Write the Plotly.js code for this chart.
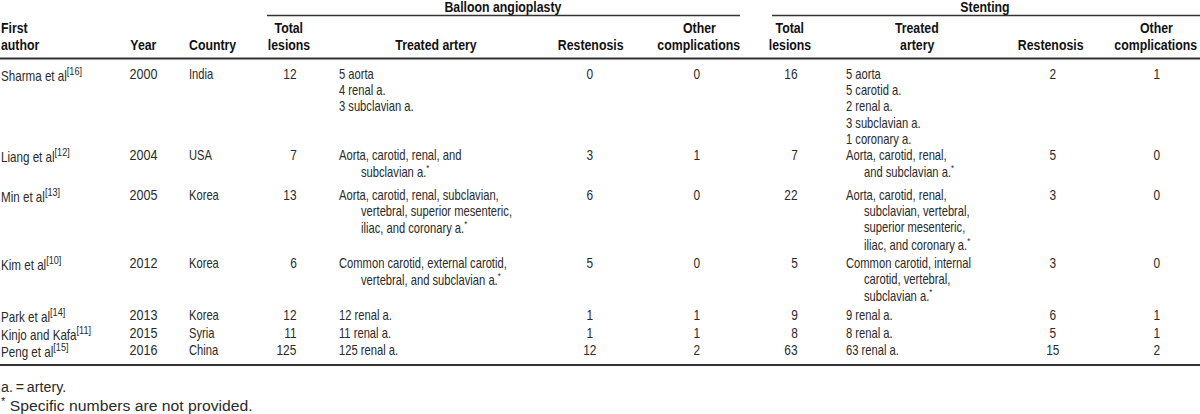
<!DOCTYPE html>
<html><head><meta charset="utf-8">
<script src="https://cdn.plot.ly/plotly-3.0.1.min.js"></script>
<style>html,body{margin:0;padding:0;background:#fff}#chart{width:1200px;height:414px}</style>
</head><body><div id="chart"></div>
<script>
// ---- data ----
// each artery cell is a list of entries; "\n" inside an entry marks a wrapped (indented) continuation
const authors = ['Sharma et al', 'Liang et al', 'Min et al', 'Kim et al', 'Park et al', 'Kinjo and Kafa', 'Peng et al'];
const refs = [16, 12, 13, 10, 14, 11, 15];
const years = [2000, 2004, 2005, 2012, 2013, 2015, 2016];
const countries = ['India', 'USA', 'Korea', 'Korea', 'Korea', 'Syria', 'China'];
const balloonTotal = [12, 7, 13, 6, 12, 11, 125];
const balloonArtery = [
  ['5 aorta', '4 renal a.', '3 subclavian a.'],
  ['Aorta, carotid, renal, and\nsubclavian a.<sup>*</sup>'],
  ['Aorta, carotid, renal, subclavian,\nvertebral, superior mesenteric,\niliac, and coronary a.<sup>*</sup>'],
  ['Common carotid, external carotid,\nvertebral, and subclavian a.<sup>*</sup>'],
  ['12 renal a.'],
  ['11 renal a.'],
  ['125 renal a.']
];
const balloonRestenosis = [0, 3, 6, 5, 1, 1, 12];
const balloonOther = [0, 1, 0, 0, 1, 1, 2];
const stentTotal = [16, 7, 22, 5, 9, 8, 63];
const stentArtery = [
  ['5 aorta', '5 carotid a.', '2 renal a.', '3 subclavian a.', '1 coronary a.'],
  ['Aorta, carotid, renal,\nand subclavian a.<sup>*</sup>'],
  ['Aorta, carotid, renal,\nsubclavian, vertebral,\nsuperior mesenteric,\niliac, and coronary a.<sup>*</sup>'],
  ['Common carotid, internal\ncarotid, vertebral,\nsubclavian a.<sup>*</sup>'],
  ['9 renal a.'],
  ['8 renal a.'],
  ['63 renal a.']
];
const stentRestenosis = [2, 5, 3, 3, 6, 5, 15];
const stentOther = [1, 0, 0, 0, 1, 1, 2];
const groupTitles = ['Balloon angioplasty', 'Stenting'];
const footnotes = ['a.\u2009=\u2009artery.', '<sup>*</sup> Specific numbers are not provided.'];

// ---- layout helpers ----
const FONT = '"Liberation Sans",Arial,sans-serif';
const BODY = {family: FONT, size: 14, color: '#2a2a2a'};
const HEAD = {family: FONT, size: 14.5, color: '#111', weight: 'bold'};
const FOOT = {family: FONT, size: 15, color: '#2a2a2a'};
const ann = [];
const annScale = [];
function txt(x, y, text, align, font, sx) {
  ann.push({x: x, y: y, xref: 'x', yref: 'y', text: text, showarrow: false,
    xanchor: align, yanchor: 'middle', align: align, font: font || BODY, borderpad: 0});
  annScale.push({s: sx || 0.8, o: align});
}
function cell(x, indent, y, entries) {
  let k = 0;
  entries.forEach(function (e) {
    e.split('\n').forEach(function (part, j) {
      txt(j ? x + indent : x, y + k * LH, part, 'left');
      k++;
    });
  });
}
const rowY = [74, 155, 195, 263, 315, 333, 350];
const LH = 16.2;
const H1 = 28, H2 = 45;
const HS = 0.85;

// group titles
const B = s => '<b>' + s + '</b>';
txt(503, 7, B(groupTitles[0]), 'center', HEAD, HS);
txt(985, 7, B(groupTitles[1]), 'center', HEAD, HS);
// column headers
txt(0, H1, B('First'), 'left', HEAD, HS); txt(0, H2, B('author'), 'left', HEAD, HS);
txt(143, H2, B('Year'), 'center', HEAD, HS);
txt(188, H2, B('Country'), 'left', HEAD, HS);
txt(289, H1, B('Total'), 'center', HEAD, HS); txt(289, H2, B('lesions'), 'center', HEAD, HS);
txt(436, H2, B('Treated artery'), 'center', HEAD, HS);
txt(590, H2, B('Restenosis'), 'center', HEAD, HS);
txt(699, H1, B('Other'), 'center', HEAD, HS); txt(699, H2, B('complications'), 'center', HEAD, HS);
txt(790, H1, B('Total'), 'center', HEAD, HS); txt(790, H2, B('lesions'), 'center', HEAD, HS);
txt(917, H1, B('Treated'), 'center', HEAD, HS); txt(917, H2, B('artery'), 'center', HEAD, HS);
txt(1050, H2, B('Restenosis'), 'center', HEAD, HS);
txt(1156, H1, B('Other'), 'center', HEAD, HS); txt(1156, H2, B('complications'), 'center', HEAD, HS);

// body rows
for (let i = 0; i < authors.length; i++) {
  const y = rowY[i];
  txt(0, y, authors[i] + '<sup><span style="font-size:11px">[' + refs[i] + ']</span></sup>', 'left', BODY, 0.83);
  txt(143, y, String(years[i]), 'center', BODY, 0.9);
  txt(188, y, countries[i], 'left');
  txt(298, y, String(balloonTotal[i]), 'right', BODY, 0.85);
  cell(338, 22, y, balloonArtery[i]);
  txt(590, y, String(balloonRestenosis[i]), 'center', BODY, 0.85);
  txt(697, y, String(balloonOther[i]), 'center', BODY, 0.85);
  txt(799, y, String(stentTotal[i]), 'right', BODY, 0.85);
  cell(845, 18, y, stentArtery[i]);
  txt(1053, y, String(stentRestenosis[i]), 'center', BODY, 0.85);
  txt(1157, y, String(stentOther[i]), 'center', BODY, 0.85);
}
// footnotes
txt(0, 386, footnotes[0], 'left', FOOT, 0.95);
txt(0, 404, footnotes[1], 'left', FOOT, 1.05);

const line = (x0, x1, y, w) => ({type: 'line', xref: 'x', yref: 'y', x0: x0, x1: x1, y0: y, y1: y,
  line: {color: '#333', width: w}});
const shapes = [line(267, 740, 15.5, 1.3), line(772, 1200, 15.5, 1.3),
  line(0, 1200, 58.5, 2), line(0, 1200, 365, 2)];

const layout = {
  width: 1200, height: 414, margin: {l: 0, r: 0, t: 0, b: 0},
  paper_bgcolor: '#fff', plot_bgcolor: '#fff', showlegend: false,
  xaxis: {range: [0, 1200], visible: false, fixedrange: true},
  yaxis: {range: [414, 0], visible: false, fixedrange: true},
  annotations: ann, shapes: shapes
};
Plotly.newPlot('chart', [{x: [], y: [], type: 'scatter'}], layout, {staticPlot: true, displayModeBar: false})
  .then(function (gd) {
    // condense the glyphs horizontally (the source uses a condensed typeface)
    gd.querySelectorAll('.annotation').forEach(function (g) {
      const idx = +g.getAttribute('data-index');
      const t = g.querySelector('text');
      const sc = annScale[idx];
      if (!t || !sc) return;
      t.style.transformBox = 'fill-box';
      t.style.transformOrigin = (sc.o === 'left' ? 'left' : sc.o === 'right' ? 'right' : 'center') + ' center';
      t.style.transform = 'scaleX(' + sc.s + ')';
    });
  });
</script></body></html>
